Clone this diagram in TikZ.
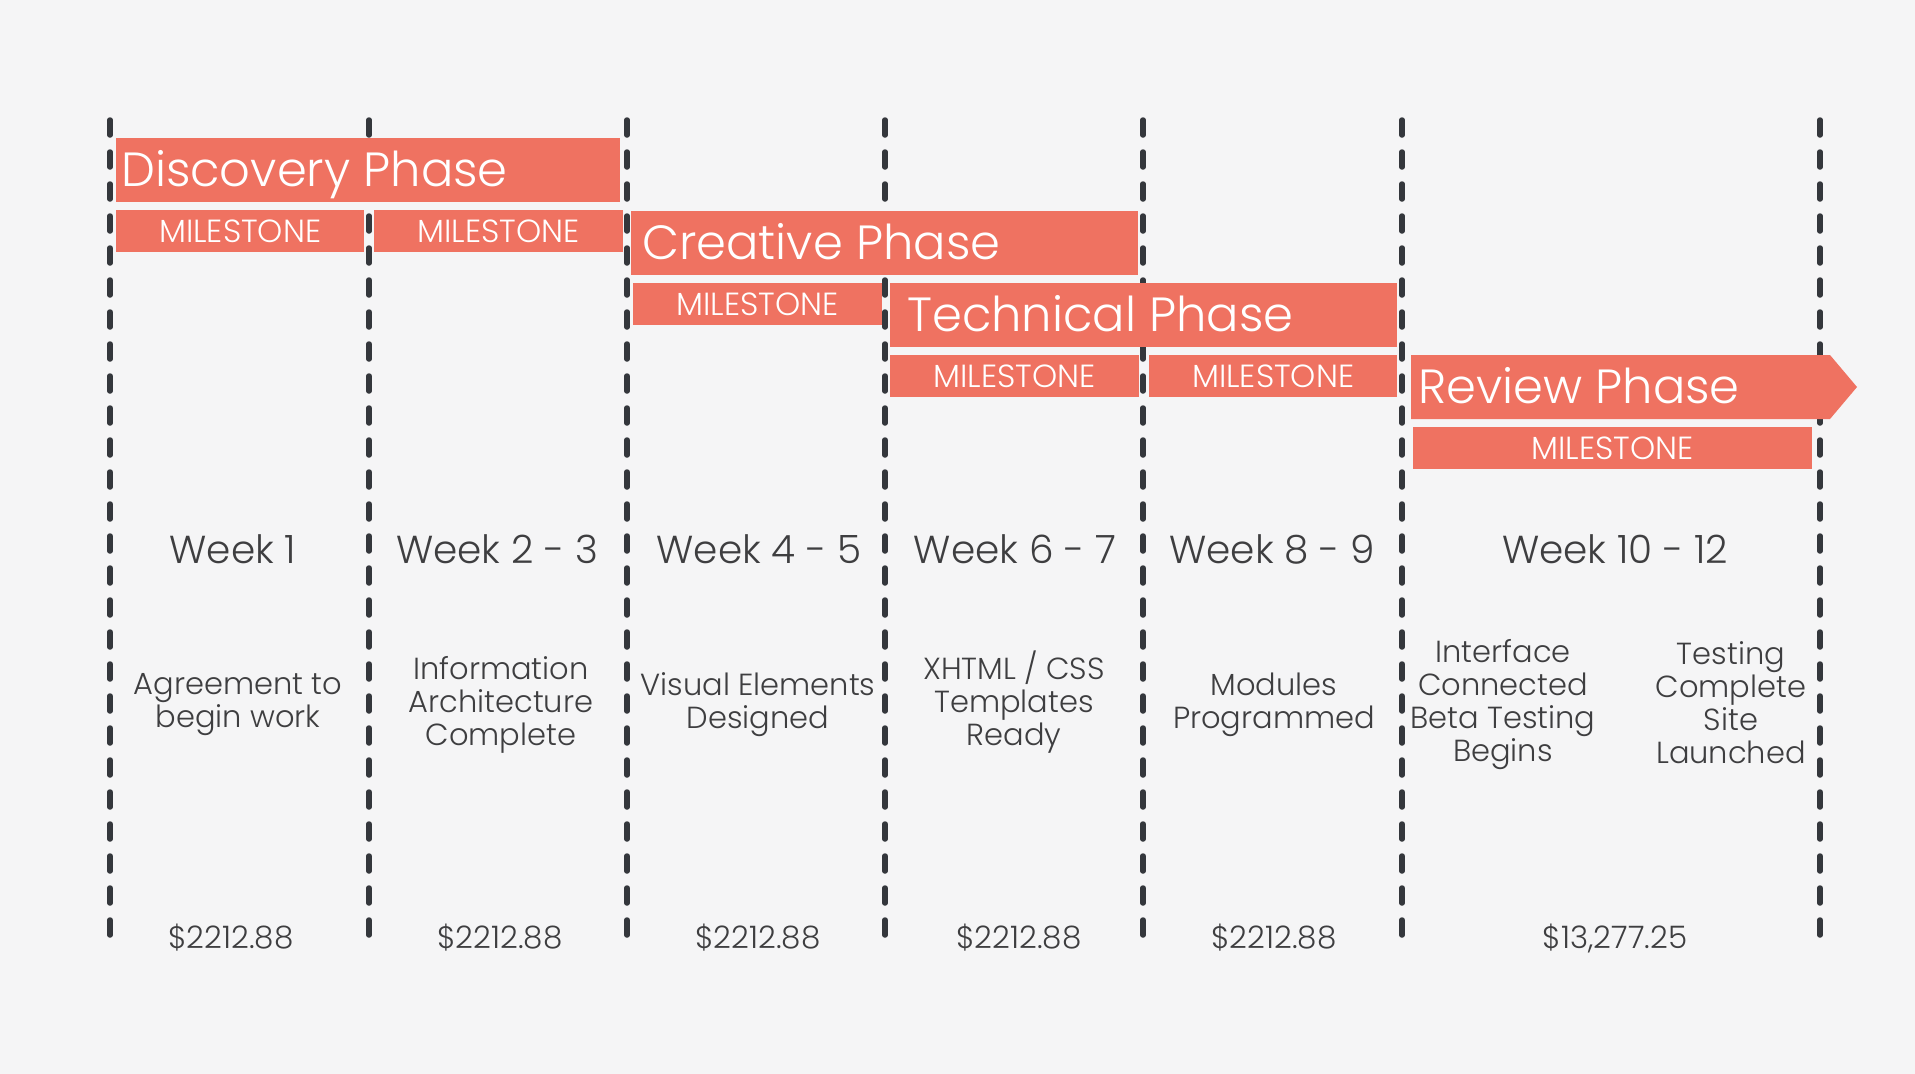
\documentclass[tikz,border=0pt]{standalone}
\usepackage{fontspec}
\IfFontExistsTF{Poppins Light}{\setmainfont{Poppins Light}}{\setmainfont{Poppins}}
\definecolor{paper}{RGB}{245,245,246}
\definecolor{coral}{RGB}{239,114,97}
\definecolor{rule}{RGB}{52,55,60}
\definecolor{ink}{RGB}{62,62,64}

\begin{document}
\begin{tikzpicture}[x=1pt,y=-1pt,
  gridline/.style={draw=rule, line width=5.5pt, line cap=round, dash pattern=on 15pt off 17pt},
  phasebar/.style={fill=coral, draw=none},
  phasetext/.style={text=white, font=\fontsize{48}{58}\selectfont, anchor=west, inner sep=0pt, text height=33pt, text depth=0pt},
  milestone/.style={fill=coral, text=white, font=\fontsize{32}{38}\selectfont, inner sep=0pt, anchor=north west, minimum height=42pt, text height=22pt, text depth=0pt},
  week/.style={text=ink, font=\fontsize{39}{46}\selectfont, inner sep=0pt, text height=28pt, text depth=0pt},
  desc/.style={text=ink, font=\fontsize{30.5}{33}\selectfont, align=center, inner sep=0pt},
  price/.style={text=ink, font=\fontsize{31}{36}\selectfont, inner sep=0pt, text height=22pt, text depth=0pt}]

% canvas
\fill[paper] (0,0) rectangle (1915,1074);
\useasboundingbox (0,0) rectangle (1915,1074);

% week dividers
\foreach \i/\x in {1/110,2/369,3/627,4/885,5/1143,6/1402,7/1820}{
  \coordinate (t\i) at (\x,120);
  \coordinate (b\i) at (\x,941);
  \draw[gridline] (t\i) -- (b\i);
}

% Discovery phase
\fill[phasebar] (116,138) rectangle (620,202);
\node[phasetext] (discovery) at (121,170) {Discovery Phase};
\node[milestone, minimum width=248pt] (ms1) at (116,210) {MILESTONE};
\node[milestone, minimum width=249pt] (ms2) at (374,210) {MILESTONE};

% Creative phase
\fill[phasebar] (631,211) rectangle (1138,275);
\node[phasetext] (creative) at (642,243) {Creative Phase};
\node[milestone, minimum width=249pt] (ms3) at (633,283) {MILESTONE};

% Technical phase
\fill[phasebar] (890,283) rectangle (1397,347);
\node[phasetext] (technical) at (907,315) {Technical Phase};
\node[milestone, minimum width=249pt] (ms4) at (890,355) {MILESTONE};
\node[milestone, minimum width=248pt] (ms5) at (1149,355) {MILESTONE};

% Review phase (arrow-tipped bar)
\fill[phasebar] (1411,355) -- (1830,355) -- (1857,387) -- (1830,419) -- (1411,419) -- cycle;
\node[phasetext] (review) at (1418,387) {Review Phase};
\node[milestone, minimum width=399pt] (ms6) at (1413,427) {MILESTONE};

% week labels
\node[week] (w1) at (233,549) {Week 1};
\node[week] (w2) at (497,549) {Week 2 - 3};
\node[week] (w3) at (759,549) {Week 4 - 5};
\node[week] (w4) at (1015,549) {Week 6 - 7};
\node[week] (w5) at (1272,549) {Week 8 - 9};
\node[week] (w6) at (1615,549) {Week 10 - 12};

% deliverables
\node[desc] (d1) at (238,705) {Agreement to\\begin work};
\node[desc] (d2) at (501,705) {Information\\Architecture\\Complete};
\node[desc] (d3) at (758,705) {Visual Elements\\Designed};
\node[desc] (d4) at (1014,702) {XHTML / CSS\\Templates\\Ready};
\node[desc] (d5) at (1274,705) {Modules\\Programmed};
\node[desc] (d6) at (1503,705) {Interface\\Connected\\Beta Testing\\Begins};
\node[desc] (d7) at (1731,703) {Testing\\Complete\\Site\\Launched};

% payments
\node[price] (p1) at (231,937) {\$2212.88};
\node[price] (p2) at (500,937) {\$2212.88};
\node[price] (p3) at (758,937) {\$2212.88};
\node[price] (p4) at (1019,937) {\$2212.88};
\node[price] (p5) at (1274,937) {\$2212.88};
\node[price] (p6) at (1615,937) {\$13,277.25};
\end{tikzpicture}
\end{document}
